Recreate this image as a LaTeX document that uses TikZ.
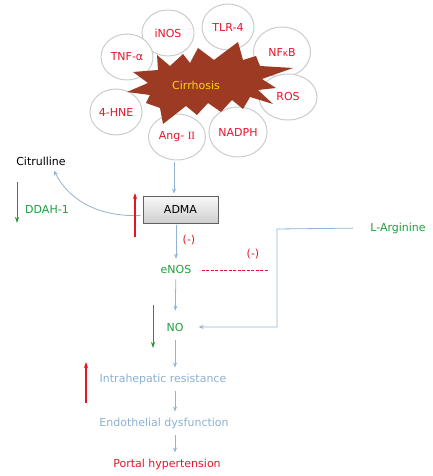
\documentclass[tikz,border=0pt]{standalone}
\usepackage{fontspec}
\setmainfont{DejaVu Sans}
\newfontfamily\romanfont{Liberation Serif}
\usepackage{xcolor}
\usepackage{tikz}
\usetikzlibrary{shapes.geometric,arrows.meta,positioning}

\definecolor{flowblue}{HTML}{8FB4D4}
\definecolor{textblue}{HTML}{8CB0D2}
\definecolor{factred}{HTML}{E3172D}
\definecolor{upred}{HTML}{E8141E}
\definecolor{labgreen}{HTML}{1F9E3E}
\definecolor{downgreen}{HTML}{23962F}
\definecolor{burstred}{HTML}{9C3A24}
\definecolor{burstyellow}{HTML}{FFD400}
\definecolor{ellgray}{HTML}{C9CDD0}

\begin{document}
\begin{tikzpicture}[
  x=1pt, y=1pt,
  every node/.style={font=\fontsize{11}{13}\selectfont},
  factor/.style={ellipse, draw=ellgray, fill=white, line width=1pt, text=factred, minimum width=52pt, minimum height=46pt, inner sep=1pt},
  marker/.style={rectangle, draw=gray!75!black, top color=gray!5, bottom color=gray!38, line width=0.8pt, minimum width=75pt, minimum height=27pt},
  lbl/.style={inner sep=4pt},
  flow/.style={-{Stealth[length=5pt, width=4pt]}, draw=flowblue, line width=0.8pt, shorten >=2pt, shorten <=2pt},
  uparrow/.style={-{Stealth[length=6pt, width=4pt]}, draw=upred, line width=1.1pt},
  downarrow/.style={-{Stealth[length=6pt, width=4pt]}, draw=downgreen, line width=0.9pt},
  inhib/.style={draw=factred, line width=1pt, dash pattern=on 3pt off 1.5pt}
]
\useasboundingbox (0,0) rectangle (432,476);

% Factors around cirrhosis
\node[factor] (inos) at (168,443) {iNOS};
\node[factor] (tlr) at (228,449) {TLR-4};
\node[factor, minimum width=57pt, minimum height=50pt] (nfkb) at (282,424) {NF{\small κ}B};
\node[factor] (tnf) at (127,419) {TNF-α};
\node[factor, minimum width=58pt] (ros) at (288,379) {ROS};
\node[factor] (hne) at (116,364) {4-HNE};
\node[factor, minimum width=57pt] (ang) at (177,339) {Ang- {\romanfont II}};
\node[factor, minimum width=58pt, minimum height=50pt] (nadph) at (238,344) {NADPH};

% Cirrhosis burst
\fill[burstred] (157,421) -- (170,410) -- (183,422) -- (190,413) -- (198,428) -- (214,416)
  -- (238,434) -- (243,416) -- (256,420) -- (260,410) -- (293,408) -- (262,397)
  -- (276,388) -- (258,386) -- (273,372) -- (250,379) -- (243,367) -- (232,376)
  -- (221,364) -- (208,373) -- (197,361) -- (186,370) -- (163,352) -- (160,368)
  -- (146,373) -- (150,381) -- (127,384) -- (148,393) -- (133,404) -- (158,406) -- cycle;
\node[text=burstyellow] (cirrhosis) at (196,391) {Cirrhosis};

% Main pathway
\node (citrulline) at (41,315) {Citrulline};
\node[text=labgreen] (ddah) at (47,267) {DDAH-1};
\node[marker] (adma) at (180.5,266.5) {ADMA};
\node[text=factred] (minus1) at (189,236) {(-)};
\node[lbl, text=labgreen] (enos) at (176,207) {eNOS};
\node[text=factred] (minus2) at (253,222) {(-)};
\node[lbl, text=labgreen] (larg) at (398,248) {L-Arginine};
\node[lbl, text=labgreen] (no) at (175,149) {NO};
\node[lbl, text=textblue] (resist) at (163,97) {Intrahepatic resistance};
\node[lbl, text=textblue] (endo) at (164,53) {Endothelial dysfunction};
\node[lbl, text=factred] (portal) at (167,12) {Portal hypertension};

% Free ends
\coordinate (ddahtop) at (17,294);
\coordinate (ddahbot) at (17,253);
\coordinate (admalow) at (135,239);
\coordinate (admahigh) at (135,283);
\coordinate (notop) at (153,171);
\coordinate (nobot) at (153,128);
\coordinate (reslow) at (86,73);
\coordinate (reshigh) at (86,114);
\coordinate (dashend) at (268,205);
\coordinate (bend) at (277,247);

% Flow arrows
\draw[flow] ([xshift=-3pt]ang.south) -- ([xshift=-3pt]ang.south |- adma.north);
\draw[flow] (adma.south -| enos) -- (enos.north);
\draw[flow, shorten >=8pt] (enos) -- (no);
\draw[flow, shorten <=5pt] (no.south) -- (no.south |- resist.north);
\draw[flow] (resist.south -| no) -- (endo.north -| no);
\draw[flow] (endo.south -| no) -- (portal.north -| no);
\draw[flow] ([yshift=-6pt]adma.west) .. controls (95,259) and (68,278) .. ([xshift=12pt]citrulline.south);
\draw[flow, shorten <=13pt, shorten >=11pt] (larg.west) -- (bend) |- (no.east);
\draw[inhib, shorten <=6pt] ([yshift=-2pt]enos.east) -- (dashend);

% Up and down regulation
\draw[downarrow] (ddahtop) -- (ddahbot);
\draw[uparrow] (admalow) -- (admahigh);
\draw[downarrow] (notop) -- (nobot);
\draw[uparrow] (reslow) -- (reshigh);

\end{tikzpicture}
\end{document}
